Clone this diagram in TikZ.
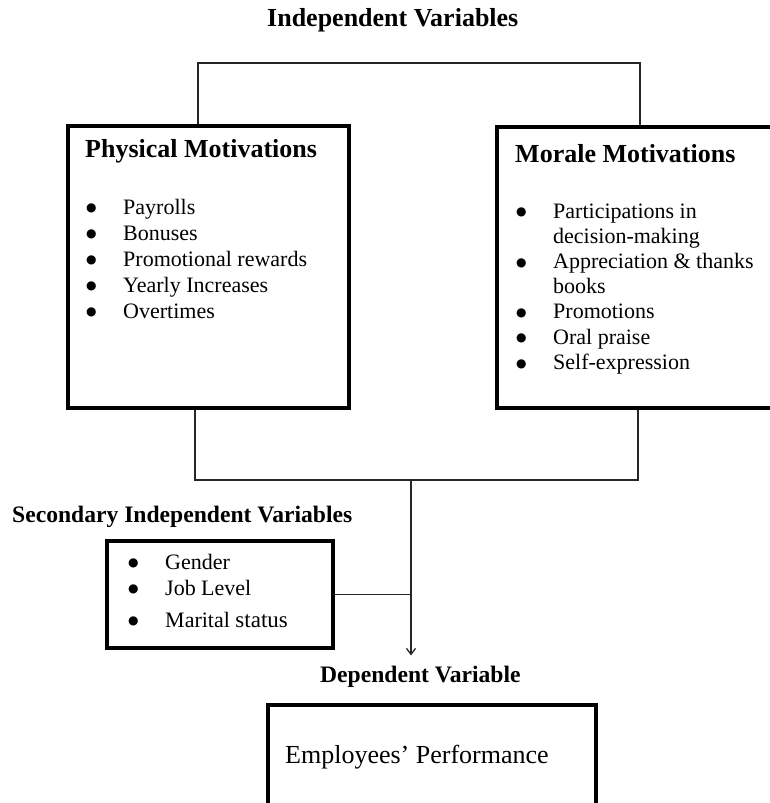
\documentclass[tikz,border=0pt]{standalone}
\usepackage{fontspec}
\setmainfont{Liberation Serif}
\newfontfamily\symfont{DejaVu Sans}
\usetikzlibrary{arrows.meta, positioning, calc}

\newcommand{\blt}{\raisebox{2.2pt}{\fontsize{12}{12}\symfont ●}}
\newcommand{\itemlist}[2]{%
  \fontsize{22}{#1}\selectfont
  \begin{tabular}[t]{@{}p{37pt}@{}l@{}}#2\end{tabular}}

\begin{document}
\begin{tikzpicture}[
    x=1pt, y=-1pt,
    box/.style={draw, line width=3.2pt, inner sep=0pt},
    head/.style={font=\fontsize{26}{30}\selectfont\bfseries, inner sep=0pt},
    subhead/.style={font=\fontsize{23.6}{28}\selectfont\bfseries, inner sep=0pt},
    list/.style={inner sep=0pt, anchor=base west},
    link/.style={line width=1.3pt, black!85},
    >={Straight Barb[length=6pt, width=9pt]}
  ]
  \useasboundingbox (0,0) rectangle (769,803);

  % Titles
  \node[head, anchor=base west] (indT) at (267,27) {Independent Variables};
  \node[subhead, anchor=base west] (secT) at (12,522) {Secondary Independent Variables};
  \node[subhead, anchor=base west] (depT) at (320,682) {Dependent Variable};

  % Boxes
  \node[box, minimum width=281pt, minimum height=282pt] (phys) at (208.5,267) {};
  \node[box, minimum width=280pt, minimum height=281pt] (mor) at (637,267.5) {};
  \node[box, minimum width=226pt, minimum height=107pt] (sec) at (220,594.5) {};
  \node[box, minimum width=328pt, minimum height=104pt] (emp) at (432,757) {};

  % Box contents
  \node[head, anchor=base west] (physH) at (85,157) {Physical Motivations};
  \node[list] (physL) at (86,214) {\itemlist{26}{%
    \blt & Payrolls\\
    \blt & Bonuses\\
    \blt & Promotional rewards\\
    \blt & Yearly Increases\\
    \blt & Overtimes}};

  \node[head, anchor=base west] (morH) at (515,162) {Morale Motivations};
  \node[list] (morL) at (516,218) {\itemlist{25.2}{%
    \blt & Participations in\\
         & decision-making\\
    \blt & Appreciation \& thanks\\
         & books\\
    \blt & Promotions\\
    \blt & Oral praise\\
    \blt & Self-expression}};

  \node[list] (secL) at (128,569) {\itemlist{26}{%
    \blt & Gender\\
    \blt & Job Level\\[6pt]
    \blt & Marital {\fontsize{23}{26}\selectfont status}}};

  \node[font=\fontsize{26}{30}\selectfont, inner sep=0pt, anchor=base west]
    (empL) at (285,763) {Employees’ Performance};

  % Connectors
  \coordinate (tl) at (198,63);
  \coordinate (tr) at (640,63);
  \coordinate (bl) at (195,480);
  \coordinate (br) at (638,480);
  \coordinate (bj) at (411,480);

  \draw[link] (phys.north -| tl) -- (tl) -- (tr) -- (mor.north -| tr);
  \draw[link] (phys.south -| bl) -- (bl) -- (br) -- (mor.south -| br);
  \draw[link] (sec.east) -- (sec.east -| bj);
  \draw[link, ->] (bj) -- ($(depT.north -| bj)+(0,-10)$);
\end{tikzpicture}
\end{document}
